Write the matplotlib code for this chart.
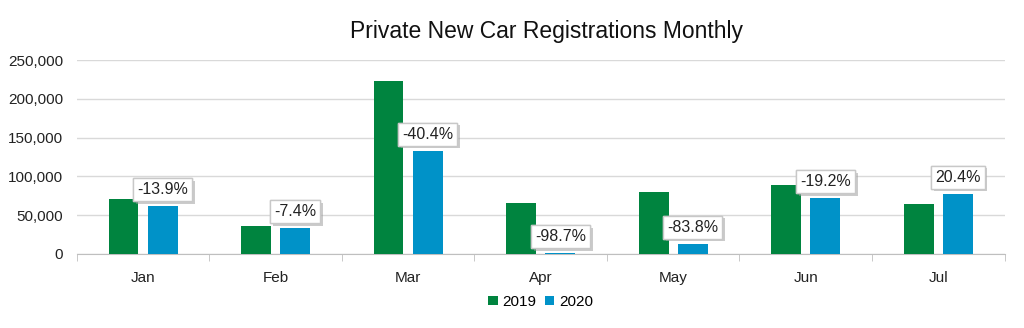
import matplotlib.pyplot as plt
import matplotlib.patheffects as pe
import numpy as np
from matplotlib.ticker import FuncFormatter

plt.rcParams['font.family'] = ['Liberation Sans', 'DejaVu Sans']

# Monate und Zulassungen
months = ['Jan', 'Feb', 'Mar', 'Apr', 'May', 'Jun', 'Jul']
reg_2019 = [71000, 36100, 223000, 65700, 79900, 88900, 64400]
reg_2020 = [61100, 33400, 132900, 850, 12900, 71800, 77600]
change_labels = ['-13.9%', '-7.4%', '-40.4%', '-98.7%', '-83.8%', '-19.2%', '20.4%']

green = '#00843f'
blue = '#0092c8'

fig = plt.figure(figsize=(10.24, 3.28), dpi=100)
ax = fig.add_axes([0.075, 0.226, 0.906, 0.591])

x = np.arange(len(months))
w = 0.225
ax.bar(x - 0.148, reg_2019, w, color=green, label='2019', zorder=3)
ax.bar(x + 0.148, reg_2020, w, color=blue, label='2020', zorder=3)

# Prozent-Labels mit Kasten
for i, lab in enumerate(change_labels):
    t = ax.annotate(lab, (x[i] + 0.148, reg_2020[i]), xytext=(0, 12),
                    textcoords='offset points', ha='center', va='center',
                    fontsize=11.5, color='#222222', zorder=5,
                    bbox=dict(boxstyle='square,pad=0.25', fc='white', ec='#c8c8c8', lw=1))
    t.get_bbox_patch().set_path_effects([pe.withSimplePatchShadow(offset=(2, -2), shadow_rgbFace='#999999', alpha=0.5), pe.Normal()])

ax.set_xlim(-0.5, len(months) - 0.5)
ax.set_ylim(0, 250000)
ax.set_yticks(range(0, 250001, 50000))
ax.yaxis.set_major_formatter(FuncFormatter(lambda v, p: f'{int(v):,}'))
ax.grid(axis='y', color='#d9d9d9', lw=1, zorder=0)

ax.set_xticks(x)
ax.set_xticklabels(months)
ax.set_xticks(np.arange(-0.5, len(months)), minor=True)
ax.tick_params(axis='x', which='major', length=0, pad=12, labelsize=11, labelcolor='#222222')
ax.tick_params(axis='x', which='minor', length=5, color='#bfbfbf')
ax.tick_params(axis='y', length=0, labelsize=11, pad=10, labelcolor='#222222')

for s in ['top', 'right', 'left']:
    ax.spines[s].set_visible(False)
ax.spines['bottom'].set_color('#bfbfbf')

fig.text(0.534, 0.905, 'Private New Car Registrations Monthly', ha='center', va='center',
         fontsize=16.5, color='#111111')

ax.legend(loc='upper center', bbox_to_anchor=(0.5, -0.14), ncol=2, frameon=False,
          fontsize=11, handlelength=0.6, handleheight=0.6, handletextpad=0.3, columnspacing=0.6)

plt.savefig('out.png')
